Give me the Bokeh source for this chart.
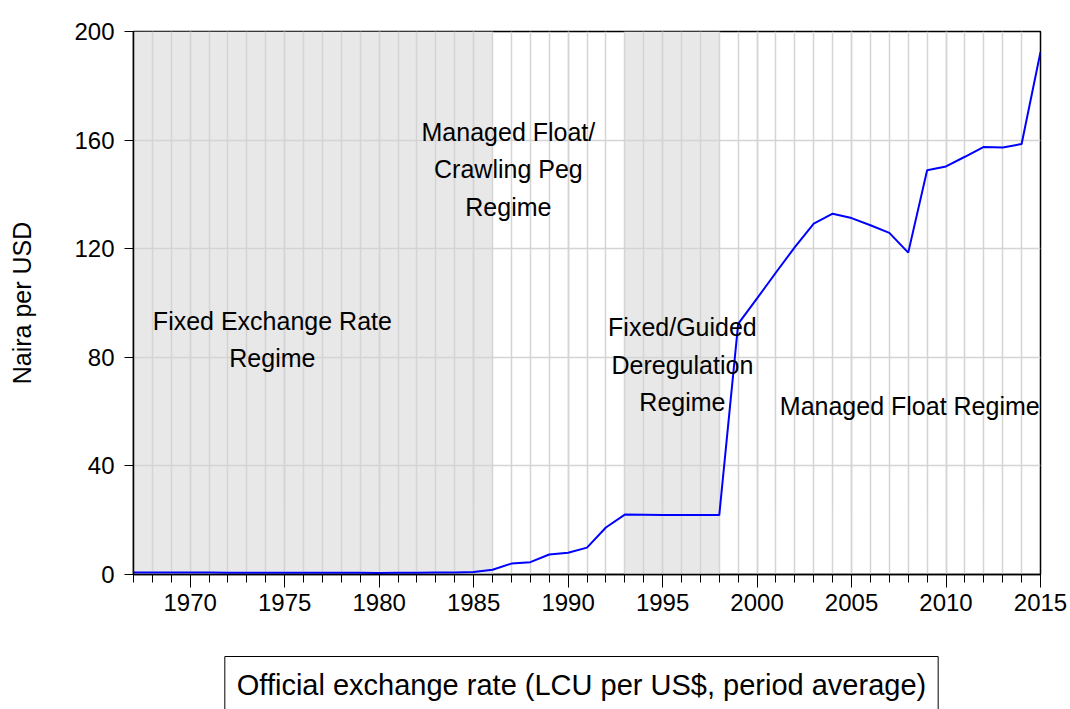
from bokeh.plotting import figure
from bokeh.layouts import column
from bokeh.models import SingleIntervalTicker, FixedTicker, Range1d, ColumnDataSource, Label
from bokeh.core.properties import value
from bokeh.embed import file_html
from bokeh.resources import INLINE

# ---- data ----
years = list(range(1967, 2016))
rate = [0.714, 0.714, 0.714, 0.714, 0.714, 0.658, 0.658, 0.630, 0.616, 0.627,
        0.645, 0.635, 0.604, 0.547, 0.618, 0.673, 0.724, 0.767, 0.894, 1.755,
        4.016, 4.537, 7.365, 8.038, 9.909, 17.298, 22.065, 21.996, 21.895, 21.884,
        21.886, 21.886, 92.338, 101.697, 111.231, 120.578, 129.222, 132.888, 131.274, 128.652,
        125.808, 118.546, 148.902, 150.298, 153.862, 157.499, 157.311, 158.553, 192.440]
series_name = "Official exchange rate (LCU per US$, period average)"
y_label = "Naira per USD"
y_ticks = [0, 40, 80, 120, 160, 200]
shade_start = [1967, 1993]
shade_end = [1986, 1998]
regime_texts = ["Fixed Exchange Rate\nRegime",
                "Managed Float/\nCrawling Peg\nRegime",
                "Fixed/Guided\nDeregulation\nRegime",
                "Managed Float Regime"]

# ---- layout of annotations (positions, not data) ----
regime_x = [1974.35, 1986.84, 1996.05, 2008.08]
regime_y = [86.6, 149.2, 77.3, 62.2]

FONT = "Liberation Sans"
W, H_MAIN, H_LEG = 1070, 640, 69

p = figure(width=W, height=H_MAIN,
           x_range=Range1d(1967, 2015), y_range=Range1d(0, 200),
           output_backend="svg", toolbar_location=None,
           min_border_left=133, min_border_right=30,
           min_border_top=31, min_border_bottom=66)
p.background_fill_color = "white"
p.border_fill_color = "white"
p.outline_line_color = "black"
p.outline_line_width = 1.5

# shaded regime periods
shade_src = ColumnDataSource(dict(left=shade_start, right=shade_end,
                                  bottom=[y_ticks[0]] * len(shade_start),
                                  top=[y_ticks[-1]] * len(shade_start)))
p.quad(left="left", right="right", bottom="bottom", top="top", source=shade_src,
       fill_color="#e8e8e8", line_color=None, level="image")

# series
line_r = p.line(years, rate, line_color="#0000ff", line_width=2)

# annotations
p.text(x=regime_x, y=regime_y, text=regime_texts,
       text_font=value(FONT), text_font_size="25px", text_color="black",
       text_align="center", text_baseline="middle", text_line_height=1.33)

# axes
xt = SingleIntervalTicker(interval=5, num_minor_ticks=5)
p.xaxis.ticker = xt
p.xgrid.ticker = xt
p.yaxis.ticker = FixedTicker(ticks=y_ticks)
p.ygrid.ticker = FixedTicker(ticks=y_ticks)

for g in (p.xgrid[0], p.ygrid[0]):
    g.grid_line_color = "#d4d4d4"
    g.grid_line_width = 1.5
p.xgrid.minor_grid_line_color = "#d4d4d4"
p.xgrid.minor_grid_line_width = 1.5

for ax in (p.xaxis[0], p.yaxis[0]):
    ax.axis_line_color = "black"
    ax.axis_line_width = 1.5
    ax.major_tick_line_color = "black"
    ax.minor_tick_line_color = "black"
    ax.major_label_text_font = FONT
    ax.major_label_text_font_size = "24px"
    ax.major_label_text_color = "black"
    ax.major_tick_in = 0
    ax.minor_tick_in = 0

p.xaxis.major_tick_out = 13
p.xaxis.minor_tick_out = 8
p.xaxis.major_label_standoff = 6

p.yaxis.major_tick_out = 9
p.yaxis.minor_tick_out = 0
p.yaxis.major_label_standoff = 10
p.yaxis.major_label_text_baseline = "alphabetic"
p.yaxis.axis_label = y_label
p.yaxis.axis_label_text_font = FONT
p.yaxis.axis_label_text_font_size = "25px"
p.yaxis.axis_label_text_font_style = "normal"
p.yaxis.axis_label_text_color = "black"
p.yaxis.axis_label_standoff = 35

# legend box (text only, as in the reference) in a strip below the chart;
# the strip's frame is aligned with the main frame by the column layout
p2 = figure(width=W, height=H_LEG, output_backend="svg", toolbar_location=None,
            x_axis_type=None, y_axis_type=None,
            min_border=0, min_border_left=0, min_border_right=0,
            min_border_top=0, min_border_bottom=0)
p2.outline_line_color = None
p2.grid.visible = False
p2.background_fill_color = "white"
p2.border_fill_color = "white"
leg = Label(x=448, y=25, x_units="screen", y_units="screen",
            text=series_name, text_font=FONT, text_font_size="29px",
            text_color="black", text_align="center", text_baseline="middle",
            border_line_color="black", border_line_width=1,
            background_fill_color="white", padding=12)
p2.add_layout(leg)

layout = column(p, p2, spacing=0)
open("out.html", "w").write(file_html(layout, INLINE))
